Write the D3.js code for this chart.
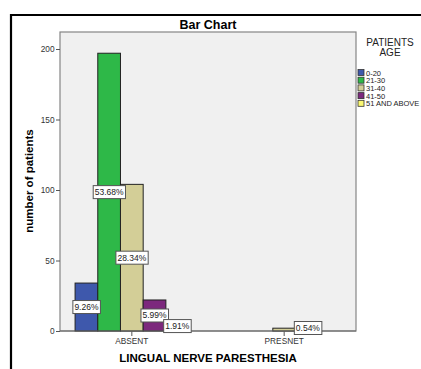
<!DOCTYPE html>
<html><head><meta charset="utf-8">
<script src="https://cdn.jsdelivr.net/npm/d3@7"></script>
<style>body{margin:0;background:#fff;}svg{display:block;font-family:Arial,"Liberation Sans",sans-serif;}</style>
</head><body><svg id="c" width="421" height="369"></svg>
<script>
const categories = ["ABSENT", "PRESNET"];
const ageGroups = ["0-20", "21-30", "31-40", "41-50", "51 AND ABOVE"];
const colors = ["#3E58AC", "#2EB848", "#D3CE97", "#7C287D", "#FBF873"];
const absentValues = [34, 197, 104, 22, 7];
const presnetValues = [0, 0, 2, 0, 0];
const absentLabels = ["9.26%", "53.68%", "28.34%", "5.99%", "1.91%"];
const presnetLabels = ["", "", "0.54%", "", ""];
const yTicks = [0, 50, 100, 150, 200];

const seriesByCat = [absentValues, presnetValues];
const labelsByCat = [absentLabels, presnetLabels];

const svg = d3.select("#c");
// outer frame
svg.append("path").attr("d","M11,369 V15 H421").attr("fill","none").attr("stroke","#000").attr("stroke-width",2.2);

const L=60, T=32, R=356, B=331;
const x = d3.scaleBand().domain(categories).range([L, R]).paddingInner(0.255).paddingOuter(0.099);
const xs = d3.scaleBand().domain(ageGroups).range([0, x.bandwidth()]);
const y = d3.scaleLinear().domain([0, 200]).range([B, 49]);

svg.append("rect").attr("x",L).attr("y",T).attr("width",R-L).attr("height",B-T)
  .attr("fill","#f0f0f0").attr("stroke","#858585").attr("stroke-width",1.2);

svg.append("text").attr("x",208).attr("y",29).attr("text-anchor","middle")
  .attr("font-size",12.5).attr("font-weight","bold").text("Bar Chart");

// bars
categories.forEach((c,ci)=>{
  const g = svg.append("g").attr("transform",`translate(${x(c)},0)`);
  g.selectAll("rect").data(seriesByCat[ci].map((v,i)=>({v,i}))).join("rect")
    .filter(d=>d.v>0)
    .attr("x",d=>xs(ageGroups[d.i])).attr("width",xs.bandwidth())
    .attr("y",d=>y(d.v)).attr("height",d=>y(0)-y(d.v))
    .attr("fill",d=>colors[d.i]).attr("stroke","#222").attr("stroke-width",1);
});

// axes
const yAxis = d3.axisLeft(y).tickValues(yTicks).tickSize(4).tickPadding(1.5);
const ya = svg.append("g").attr("transform",`translate(${L},0)`).call(yAxis);
ya.select(".domain").remove();
ya.selectAll("line").attr("stroke","#555");
ya.selectAll("text").attr("font-size",8.3).attr("fill","#333").attr("font-family","Arial,'Liberation Sans',sans-serif");

const xAxis = d3.axisBottom(x).tickSize(5).tickPadding(2);
const xa = svg.append("g").attr("transform",`translate(0,${B})`).call(xAxis);
xa.select(".domain").remove();
xa.selectAll("line").attr("stroke","#555");
xa.selectAll("text").attr("font-size",8.3).attr("fill","#333").attr("font-family","Arial,'Liberation Sans',sans-serif");
svg.append("line").attr("x1",L).attr("x2",R).attr("y1",B).attr("y2",B).attr("stroke","#666").attr("stroke-width",1.2);

// value labels
categories.forEach((c,ci)=>{
  seriesByCat[ci].forEach((v,i)=>{
    const lab = labelsByCat[ci][i];
    if(!lab) return;
    let cx = x(c)+xs(ageGroups[i])+xs.bandwidth()/2;
    let cy = (y(v)+y(0))/2;
    if (y(0)-y(v) < 6 && ci===1) { cx += xs.bandwidth()+1; cy = B-3; }
    const t = svg.append("text").attr("x",cx).attr("y",cy+3).attr("text-anchor","middle")
      .attr("font-size",8.5).attr("fill","#222").text(lab);
    const bb = t.node().getBBox();
    svg.insert("rect", () => t.node()).attr("x",bb.x-1.5).attr("y",cy-6.5).attr("width",bb.width+3).attr("height",13)
      .attr("fill","#fff").attr("stroke","#555").attr("stroke-width",1);
  });
});

// axis titles
svg.append("text").attr("transform","translate(33,181) rotate(-90)").attr("text-anchor","middle")
  .attr("font-size",11.5).attr("font-weight","bold").text("number of patients");
svg.append("text").attr("x",208).attr("y",362).attr("text-anchor","middle")
  .attr("font-size",11.5).attr("font-weight","bold").text("LINGUAL NERVE PARESTHESIA");

// legend
svg.append("text").attr("x",390).attr("y",46).attr("text-anchor","middle").attr("font-size",10).attr("fill","#222").text("PATIENTS");
svg.append("text").attr("x",390).attr("y",56).attr("text-anchor","middle").attr("font-size",10).attr("fill","#222").text("AGE");
const lg = svg.append("g").selectAll("g").data(ageGroups).join("g")
  .attr("transform",(d,i)=>`translate(358,${69.5+i*7.7})`);
lg.append("rect").attr("width",6).attr("height",6).attr("fill",(d,i)=>colors[i]).attr("stroke","#333").attr("stroke-width",0.8);
lg.append("text").attr("x",8).attr("y",6).attr("font-size",7.5).attr("fill","#222").text(d=>d);
</script></body></html>
